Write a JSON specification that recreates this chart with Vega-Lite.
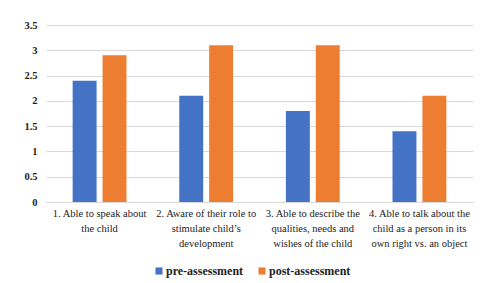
{
  "$schema": "https://vega.github.io/schema/vega-lite/v6.json",
  "width": 427,
  "height": 177,
  "autosize": {"type": "none"},
  "padding": {"left": 46, "top": 25, "right": 12, "bottom": 81},
  "background": "white",
  "data": {
    "values": [
      {"category": "1. Able to speak about|the child", "series": "pre-assessment", "value": 2.4},
      {"category": "1. Able to speak about|the child", "series": "post-assessment", "value": 2.9},
      {"category": "2. Aware of their role to|stimulate child’s|development", "series": "pre-assessment", "value": 2.1},
      {"category": "2. Aware of their role to|stimulate child’s|development", "series": "post-assessment", "value": 3.1},
      {"category": "3. Able to describe the|qualities, needs and|wishes of the child", "series": "pre-assessment", "value": 1.8},
      {"category": "3. Able to describe the|qualities, needs and|wishes of the child", "series": "post-assessment", "value": 3.1},
      {"category": "4. Able to talk about the|child as a person in its|own right vs. an object", "series": "pre-assessment", "value": 1.4},
      {"category": "4. Able to talk about the|child as a person in its|own right vs. an object", "series": "post-assessment", "value": 2.1}
    ]
  },
  "mark": {"type": "bar"},
  "encoding": {
    "x": {
      "field": "category",
      "type": "nominal",
      "sort": null,
      "scale": {"paddingInner": 0.495, "paddingOuter": 0.25},
      "axis": {
        "title": null,
        "labelAngle": 0,
        "labelExpr": "split(datum.label, '|')",
        "labelFont": "Liberation Serif",
        "labelFontSize": 10.5,
        "labelColor": "#222222",
        "labelLineHeight": 15,
        "labelPadding": 6,
        "labelLimit": 200,
        "ticks": false,
        "domain": true,
        "domainColor": "#d9d9d9",
        "grid": false
      }
    },
    "xOffset": {
      "field": "series",
      "type": "nominal",
      "sort": ["pre-assessment", "post-assessment"],
      "scale": {"paddingInner": 0.2, "paddingOuter": 0}
    },
    "y": {
      "field": "value",
      "type": "quantitative",
      "scale": {"domain": [0, 3.5]},
      "axis": {
        "title": null,
        "values": [0, 0.5, 1, 1.5, 2, 2.5, 3, 3.5],
        "format": "~g",
        "labelFont": "Liberation Serif",
        "labelFontSize": 10.5,
        "labelFontWeight": "bold",
        "labelColor": "#222222",
        "labelPadding": 9,
        "ticks": false,
        "domain": false,
        "gridColor": "#d9d9d9",
        "gridWidth": 1
      }
    },
    "color": {
      "field": "series",
      "type": "nominal",
      "sort": ["pre-assessment", "post-assessment"],
      "scale": {"domain": ["pre-assessment", "post-assessment"], "range": ["#4472C4", "#ED7D31"]},
      "legend": {
        "title": null,
        "orient": "none",
        "legendX": 107,
        "legendY": 240,
        "direction": "horizontal",
        "symbolType": "square",
        "symbolSize": 50,
        "symbolStrokeWidth": 0,
        "labelFont": "Liberation Serif",
        "labelFontSize": 12,
        "labelFontWeight": "bold",
        "labelColor": "#222222",
        "columnPadding": 12,
        "labelOffset": 1
      }
    }
  },
  "config": {"view": {"stroke": null}}
}
